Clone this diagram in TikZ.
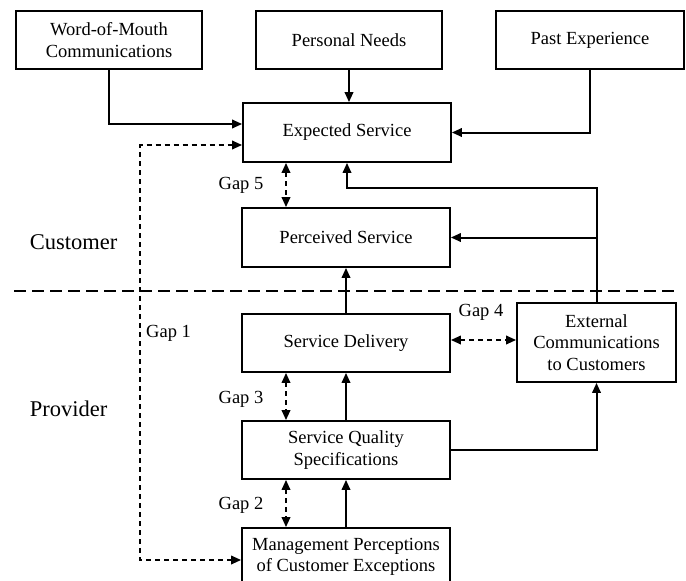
\documentclass[tikz,border=0pt]{standalone}
\usepackage{fontspec}
\setmainfont{Liberation Serif}
\usetikzlibrary{arrows.meta,calc}
\begin{document}
\begin{tikzpicture}[x=1pt,y=-1pt,
  box/.style={draw, line width=1.8pt, inner sep=0pt, align=center, font=\fontsize{18.5}{21.5}\selectfont},
  flow/.style={line width=2pt, -{Triangle[length=10pt,width=8.5pt]}},
  gaparrow/.style={line width=2pt, dash pattern=on 5pt off 4pt, {Triangle[length=10pt,width=8.5pt]}-{Triangle[length=10pt,width=8.5pt]}},
  divider/.style={line width=1.8pt, dash pattern=on 12pt off 6pt},
  lbl/.style={inner sep=0pt, font=\fontsize{18.5}{21.5}\selectfont},
  side/.style={inner sep=0pt, font=\fontsize{22.5}{26}\selectfont}]
\useasboundingbox (0,0) rectangle (686,581);
\fill[white] (0,0) rectangle (686,581);

% boxes
\node[box, minimum width=186pt, minimum height=58pt] (wom) at (109,40) {Word-of-Mouth\\Communications};
\node[box, minimum width=186pt, minimum height=58pt] (pn) at (349,40) {Personal Needs};
\node[box, minimum width=188pt, minimum height=58pt] (past) at (590,40) {Past Experience};
\node[box, minimum width=208pt, minimum height=59pt] (exp) at (347,132.5) {Expected Service};
\node[box, minimum width=208pt, minimum height=59pt] (perc) at (346,237.5) {Perceived Service};
\node[box, minimum width=208pt, minimum height=58pt] (sd) at (346,343) {Service Delivery};
\node[box, minimum width=208pt, minimum height=58pt] (sqs) at (346,450) {Service Quality\\Specifications};
\node[box, minimum width=208pt, minimum height=58pt] (mgmt) at (346,557) {Management Perceptions\\of Customer Exceptions};
\node[box, minimum width=159pt, minimum height=79pt] (ext) at (596.5,342.5) {External\\Communications\\to Customers};

% divider
\draw[divider] (14,291) -- (675,291);

% side labels
\node[side] (cust) at (73.5,242) {Customer};
\node[side] (prov) at (68.5,409) {Provider};

% solid connectors
\draw[flow] (wom.south) |- ([yshift=8.5pt]exp.west);
\draw[flow] (pn.south) -- (pn.south |- exp.north);
\draw[flow] (past.south) |- (exp.east);
\draw[flow] (ext.north) -- ++(0,-114) -| (exp.south);
\draw[flow] (ext.north |- perc.east) -- (perc.east);
\draw[flow] (sd.north) -- (perc.south);
\draw[flow] (sqs.north) -- (sd.south);
\draw[flow] (mgmt.north) -- (sqs.south);
\draw[flow] (sqs.east) -| (ext.south);

% gaps
\draw[gaparrow] ([yshift=-3pt]mgmt.west) -- ++(-101,0) |- ([yshift=-12.5pt]exp.west);
\draw[gaparrow] ([xshift=-61pt]exp.south) -- ([xshift=-61pt]exp.south |- perc.north);
\draw[gaparrow] ([yshift=3pt]sd.east) -- ([yshift=3pt]sd.east -| ext.west);
\draw[gaparrow] ([xshift=-60pt]sd.south) -- ([xshift=-60pt]sqs.north);
\draw[gaparrow] ([xshift=-60pt]sqs.south) -- ([xshift=-60pt]mgmt.north);

\node[lbl] (g5) at (241,185) {Gap 5};
\node[lbl, anchor=west] (g1) at (146,333) {Gap 1};
\node[lbl] (g4) at (481,312) {Gap 4};
\node[lbl] (g3) at (241,399) {Gap 3};
\node[lbl] (g2) at (241,505) {Gap 2};
\end{tikzpicture}
\end{document}
